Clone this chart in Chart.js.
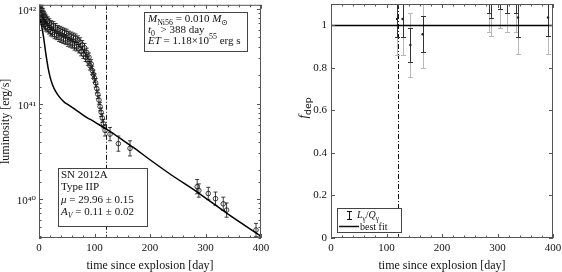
<!DOCTYPE html>
<html>
<head>
<meta charset="utf-8">
<script src="https://cdn.jsdelivr.net/npm/chart.js@4.4.1/dist/chart.umd.min.js"></script>
<style>
  body { margin: 0; background: #fff; width: 562px; height: 272px; overflow: hidden; position: relative; }
  #lumChart { position: absolute; left: 0; top: 0; }
  #fdepChart { position: absolute; left: 280px; top: 0; }
</style>
</head>
<body>
<canvas id="lumChart" width="280" height="272"></canvas>
<canvas id="fdepChart" width="282" height="272"></canvas>
<script>
// observed bolometric light curve, log10 L [erg/s] and error in dex
const obsDays = [1, 2, 3, 4, 5, 6, 7, 8, 9, 10, 11, 12, 13, 15, 16, 18, 19, 21, 22, 24, 26, 28, 30, 32, 34, 36, 38, 40,
    42, 44, 46, 48, 50, 52, 54, 56, 58, 60, 62, 64, 66, 68, 70, 72, 74, 76, 78, 80, 82, 84, 86, 88, 90, 92, 94, 96, 98,
    100, 102, 104, 106, 108, 110, 112, 114, 116,
    119, 128, 143, 164, 285, 288, 305, 318, 332, 338, 391];
const obsLogL = [42.00, 41.94, 42.03, 41.91, 41.99, 41.88, 41.96, 41.86, 41.93, 41.83, 41.91, 41.81, 41.89, 41.80, 41.87,
    41.78, 41.85, 41.76, 41.83, 41.75, 41.82, 41.73, 41.80, 41.72, 41.78, 41.70, 41.77, 41.69, 41.76, 41.68, 41.75, 41.67,
    41.74, 41.65, 41.72, 41.64, 41.71, 41.63, 41.70, 41.61, 41.69, 41.60, 41.67, 41.58, 41.65, 41.55, 41.62, 41.52, 41.59,
    41.49, 41.54, 41.45, 41.49, 41.40, 41.42, 41.35, 41.31, 41.27, 41.22, 41.16, 41.10, 41.04, 40.97, 40.91, 40.85, 40.79,
    40.72, 40.68, 40.58, 40.53, 40.127, 40.086, 40.055, 40.00, 39.946, 39.88, 39.67];
const obsErr = [0.045, 0.045, 0.045, 0.045, 0.045, 0.045, 0.045, 0.045, 0.045, 0.045, 0.045, 0.045, 0.045, 0.045,
    0.045, 0.045, 0.045, 0.045, 0.045, 0.045, 0.045, 0.045, 0.045, 0.045, 0.045, 0.045, 0.045, 0.045, 0.045, 0.045,
    0.045, 0.045, 0.045, 0.045, 0.045, 0.045, 0.045, 0.045, 0.045, 0.045, 0.045, 0.045, 0.045, 0.045, 0.045, 0.045,
    0.045, 0.045, 0.045, 0.045, 0.045, 0.045, 0.045, 0.045, 0.045, 0.045, 0.045, 0.045, 0.045, 0.045, 0.045, 0.045,
    0.045, 0.045, 0.045, 0.045,
    0.06, 0.07, 0.08, 0.08, 0.075, 0.07, 0.065, 0.07, 0.07, 0.075, 0.07];

// best-fit deposition curve
const fitDays = [0, 4, 8, 12, 16, 20, 25, 30, 37, 45, 55, 70, 85, 100, 115, 130, 145, 170, 200, 236, 285, 340, 400];
const fitLogL = [41.93, 41.84, 41.71, 41.54, 41.39, 41.28, 41.19, 41.13, 41.07, 41.02, 40.98, 40.92, 40.86, 40.81,
    40.755, 40.70, 40.64, 40.54, 40.41, 40.26, 40.07, 39.84, 39.605];

// gamma-ray deposition fraction L_gamma/Q_gamma
const fdepDays = [119, 129, 143, 165, 285, 288, 305, 318, 333, 337, 391];
const fdepVals = [1.03, 1.03, 0.908, 0.958, 1.14, 1.12, 1.164, 1.14, 1.14, 1.037, 1.037];
const fdepErrIn = [0.086, 0.086, 0.078, 0.084, 0.08, 0.083, 0.085, 0.081, 0.08, 0.09, 0.085];
const fdepErrOut = [0.168, 0.168, 0.152, 0.158, 0.17, 0.168, 0.178, 0.173, 0.173, 0.172, 0.172];

const plateauEnd = 121;
const dayTicks = [0, 100, 200, 300, 400];
const dayTickLabels = ['0', '100', '200', '300', '400'];
const lumTicks = [1e40, 1e41, 1e42];
const lumTickLabels = ['10⁴⁰', '10⁴¹', '10⁴²'];
const fdepTicks = [0, 0.2, 0.4, 0.6, 0.8, 1];
const fdepTickLabels = ['0', '0.2', '0.4', '0.6', '0.8', '1'];

const SERIF = '"Liberation Serif", "DejaVu Serif", serif';

function labelFor(values, labels, v) {
    for (let i = 0; i < values.length; i++) {
        if (Math.abs(values[i] - v) <= Math.abs(values[i]) * 1e-6 + 1e-9) return labels[i];
    }
    return '';
}

function fixAxis(width, height) {
    return function (scale) {
        if (width !== null) scale.width = width;
        if (height !== null) scale.height = height;
        scale.paddingTop = 0;
        scale.paddingBottom = 0;
        scale.paddingLeft = 0;
        scale.paddingRight = 0;
    };
}

// text with italic / sub / sup pieces
function richWidth(ctx, segs, size) {
    let w = 0;
    segs.forEach(s => {
        const fs = (s.sub || s.sup) ? size * 0.72 : size;
        ctx.font = (s.it ? 'italic ' : '') + fs + 'px ' + (s.sans ? '"DejaVu Sans", sans-serif' : SERIF);
        w += ctx.measureText(s.t).width;
    });
    return w;
}

function drawRich(ctx, x, y, segs, size) {
    let cx = x;
    ctx.textAlign = 'left';
    ctx.textBaseline = 'alphabetic';
    segs.forEach(s => {
        const fs = (s.sub || s.sup) ? size * 0.72 : size;
        ctx.font = (s.it ? 'italic ' : '') + fs + 'px ' + (s.sans ? '"DejaVu Sans", sans-serif' : SERIF);
        const dy = s.sub ? size * 0.3 : (s.sup ? -size * 0.42 : 0);
        ctx.fillText(s.t, cx, y + dy);
        cx += ctx.measureText(s.t).width;
    });
}

function drawBox(ctx, x0, y0, x1, y1) {
    ctx.fillStyle = '#fff';
    ctx.fillRect(x0, y0, x1 - x0, y1 - y0);
    ctx.strokeStyle = '#444';
    ctx.lineWidth = 1;
    ctx.strokeRect(x0 + 0.5, y0 + 0.5, x1 - x0 - 1, y1 - y0 - 1);
}

// frame with inward ticks on all four sides
const framePlugin = {
    id: 'frame',
    afterDraw(chart) {
        const { ctx, chartArea: a } = chart;
        const xs = chart.scales.x, ys = chart.scales.y;
        ctx.save();
        ctx.strokeStyle = '#555';
        ctx.lineWidth = 1;
        ctx.beginPath();
        xs.ticks.forEach(t => {
            if (t.value < xs.min || t.value > xs.max) return;
            const len = t.label ? 4 : 2.5;
            const px = Math.round(xs.getPixelForValue(t.value)) + 0.5;
            ctx.moveTo(px, a.bottom); ctx.lineTo(px, a.bottom - len);
            ctx.moveTo(px, a.top); ctx.lineTo(px, a.top + len);
        });
        ys.ticks.forEach(t => {
            if (t.value < ys.min || t.value > ys.max) return;
            const len = t.label ? 4 : 2.5;
            const py = Math.round(ys.getPixelForValue(t.value)) + 0.5;
            ctx.moveTo(a.left, py); ctx.lineTo(a.left + len, py);
            ctx.moveTo(a.right, py); ctx.lineTo(a.right - len, py);
        });
        ctx.stroke();
        ctx.strokeRect(a.left + 0.5, a.top + 0.5, a.right - a.left - 1, a.bottom - a.top - 1);
        ctx.restore();
    }
};

function drawCutLine(chart) {
    const { ctx, chartArea: a } = chart;
    const px = Math.round(chart.scales.x.getPixelForValue(plateauEnd)) + 0.5;
    ctx.save();
    ctx.strokeStyle = '#111';
    ctx.lineWidth = 1;
    ctx.setLineDash([5, 2, 1, 2]);
    ctx.beginPath();
    ctx.moveTo(px, a.top);
    ctx.lineTo(px, a.bottom);
    ctx.stroke();
    ctx.restore();
}

const lumPlugin = {
    id: 'lumExtras',
    beforeDatasetsDraw(chart) {
        const { ctx, chartArea: a } = chart;
        const xs = chart.scales.x, ys = chart.scales.y;
        drawCutLine(chart);
        ctx.save();
        ctx.beginPath();
        ctx.rect(a.left, a.top, a.right - a.left, a.bottom - a.top);
        ctx.clip();
        ctx.strokeStyle = '#111';
        ctx.lineWidth = 0.8;
        ctx.beginPath();
        obsDays.forEach((d, i) => {
            const px = xs.getPixelForValue(d);
            const yt = ys.getPixelForValue(Math.pow(10, obsLogL[i] + obsErr[i]));
            const yb = ys.getPixelForValue(Math.pow(10, obsLogL[i] - obsErr[i]));
            ctx.moveTo(px, yt); ctx.lineTo(px, yb);
            ctx.moveTo(px - 2, yt); ctx.lineTo(px + 2, yt);
            ctx.moveTo(px - 2, yb); ctx.lineTo(px + 2, yb);
        });
        ctx.stroke();
        ctx.restore();
    },
    afterDraw(chart) {
        const ctx = chart.ctx;
        ctx.save();
        drawBox(ctx, 144, 12, 248, 52);
        ctx.fillStyle = '#111';
        drawRich(ctx, 148, 22, [{ t: 'M', it: 1 }, { t: 'Ni56', sub: 1 }, { t: ' = 0.010 ' }, { t: 'M', it: 1 }, { t: '⊙', sub: 1 }], 11);
        drawRich(ctx, 148, 33, [{ t: 't', it: 1 }, { t: '0', sub: 1 }, { t: '  > 388 day' }], 11);
        drawRich(ctx, 148, 44, [{ t: 'ET', it: 1 }, { t: ' = 1.18×10' }, { t: '55', sup: 1 }, { t: ' erg s' }], 11);

        drawBox(ctx, 58, 168, 148, 227);
        ctx.fillStyle = '#111';
        drawRich(ctx, 61, 178, [{ t: 'SN 2012A' }], 11);
        drawRich(ctx, 61, 190, [{ t: 'Type IIP' }], 11);
        drawRich(ctx, 61, 202.5, [{ t: 'μ', it: 1 }, { t: ' = 29.96 ± 0.15' }], 11);
        drawRich(ctx, 61, 214.5, [{ t: 'A', it: 1 }, { t: 'V', it: 1, sub: 1 }, { t: ' = 0.11 ± 0.02' }], 11);
        ctx.restore();
    }
};

const fdepPlugin = {
    id: 'fdepExtras',
    beforeDatasetsDraw(chart) {
        const { ctx, chartArea: a } = chart;
        const xs = chart.scales.x, ys = chart.scales.y;
        drawCutLine(chart);
        ctx.save();
        ctx.beginPath();
        ctx.rect(a.left, a.top, a.right - a.left, a.bottom - a.top);
        ctx.clip();
        [[fdepErrOut, '#b8b8b8'], [fdepErrIn, '#333']].forEach(([errs, col]) => {
            ctx.strokeStyle = col;
            ctx.lineWidth = 1;
            ctx.beginPath();
            fdepDays.forEach((d, i) => {
                const px = Math.round(xs.getPixelForValue(d)) + 0.5;
                const yt = Math.round(ys.getPixelForValue(fdepVals[i] + errs[i])) + 0.5;
                const yb = Math.round(ys.getPixelForValue(fdepVals[i] - errs[i])) + 0.5;
                ctx.moveTo(px, yt); ctx.lineTo(px, yb);
                ctx.moveTo(px - 2.5, yt); ctx.lineTo(px + 2.5, yt);
                ctx.moveTo(px - 2.5, yb); ctx.lineTo(px + 2.5, yb);
            });
            ctx.stroke();
        });
        ctx.restore();
    },
    afterDraw(chart) {
        const ctx = chart.ctx;
        ctx.save();
        // y label f_dep
        const lab = [{ t: 'f', it: 1 }, { t: 'dep', sub: 1, sans: 1 }];
        const w = richWidth(ctx, lab, 13);
        ctx.translate(27, 108);
        ctx.rotate(-Math.PI / 2);
        ctx.fillStyle = '#111';
        drawRich(ctx, -w / 2, 0, lab, 13);
        ctx.restore();

        ctx.save();
        drawBox(ctx, 57, 208, 122, 233);
        ctx.strokeStyle = '#111';
        ctx.lineWidth = 1;
        ctx.beginPath();
        ctx.moveTo(69.5, 211); ctx.lineTo(69.5, 220);
        ctx.moveTo(67, 211.5); ctx.lineTo(72, 211.5);
        ctx.moveTo(67, 219.5); ctx.lineTo(72, 219.5);
        ctx.stroke();
        ctx.lineWidth = 1.5;
        ctx.beginPath();
        ctx.moveTo(59, 226.5); ctx.lineTo(79, 226.5);
        ctx.stroke();
        ctx.fillStyle = '#111';
        drawRich(ctx, 77, 218, [{ t: 'L', it: 1 }, { t: 'γ', sub: 1 }, { t: '/' }, { t: 'Q', it: 1 }, { t: 'γ', sub: 1 }], 10);
        drawRich(ctx, 80, 230, [{ t: 'best fit' }], 10);
        ctx.restore();
    }
};

const tickFont = { family: SERIF, size: 11 };
const titleFont = { family: SERIF, size: 12, lineHeight: 1 };

function dayAxis() {
    return {
        type: 'linear',
        min: 0,
        max: 400,
        grid: { display: false, drawTicks: false },
        border: { display: false },
        ticks: {
            stepSize: 20,
            autoSkip: false,
            maxRotation: 0,
            includeBounds: false,
            padding: 4,
            color: '#111',
            font: tickFont,
            callback: v => labelFor(dayTicks, dayTickLabels, v)
        },
        title: { display: true, text: 'time since explosion [day]', color: '#111', font: titleFont, padding: 0 },
        afterFit: fixAxis(null, 34)
    };
}

new Chart(document.getElementById('lumChart'), {
    type: 'scatter',
    data: {
        datasets: [{
            label: 'best fit',
            data: fitDays.map((d, i) => ({ x: d, y: Math.pow(10, fitLogL[i]) })),
            showLine: true,
            cubicInterpolationMode: 'monotone',
            borderColor: '#000',
            borderWidth: 1.5,
            pointRadius: 0
        }, {
            label: 'SN 2012A',
            data: obsDays.map((d, i) => ({ x: d, y: Math.pow(10, obsLogL[i]) })),
            pointRadius: 2.3,
            pointBorderWidth: 0.8,
            pointBackgroundColor: 'rgba(0,0,0,0)',
            pointBorderColor: '#111'
        }]
    },
    options: {
        responsive: false,
        animation: false,
        events: [],
        layout: { padding: { top: 1, right: 19, left: 0, bottom: 0 } },
        plugins: { legend: { display: false }, tooltip: { enabled: false } },
        scales: {
            x: dayAxis(),
            y: {
                type: 'logarithmic',
                min: Math.pow(10, 39.586),
                max: Math.pow(10, 42.042),
                grid: { display: false, drawTicks: false },
                border: { display: false },
                ticks: {
                    autoSkip: false,
                    padding: 3,
                    labelOffset: 2,
                    color: '#111',
                    font: tickFont,
                    callback: v => labelFor(lumTicks, lumTickLabels, v)
                },
                title: { display: true, text: 'luminosity [erg/s]', color: '#111', font: titleFont, padding: 0 },
                afterFit: fixAxis(39, null)
            }
        }
    },
    plugins: [lumPlugin, framePlugin]
});

new Chart(document.getElementById('fdepChart'), {
    type: 'scatter',
    data: {
        datasets: [{
            label: 'best fit',
            data: [{ x: 0, y: 1 }, { x: 400, y: 1 }],
            showLine: true,
            borderColor: '#000',
            borderWidth: 1.5,
            pointRadius: 0
        }, {
            label: 'Lγ/Qγ',
            data: fdepDays.map((d, i) => ({ x: d, y: fdepVals[i] })),
            pointRadius: 1.2,
            pointBorderWidth: 0,
            pointBackgroundColor: '#222'
        }]
    },
    options: {
        responsive: false,
        animation: false,
        events: [],
        layout: { padding: { top: 1, right: 9, left: 0, bottom: 0 } },
        plugins: { legend: { display: false }, tooltip: { enabled: false } },
        scales: {
            x: dayAxis(),
            y: {
                type: 'linear',
                min: 0,
                max: 1.1006,
                grid: { display: false, drawTicks: false },
                border: { display: false },
                ticks: {
                    stepSize: 0.2,
                    autoSkip: false,
                    includeBounds: false,
                    padding: 4,
                    color: '#111',
                    font: tickFont,
                    callback: v => labelFor(fdepTicks, fdepTickLabels, v)
                },
                afterFit: fixAxis(51, null)
            }
        }
    },
    plugins: [fdepPlugin, framePlugin]
});
</script>
</body>
</html>
